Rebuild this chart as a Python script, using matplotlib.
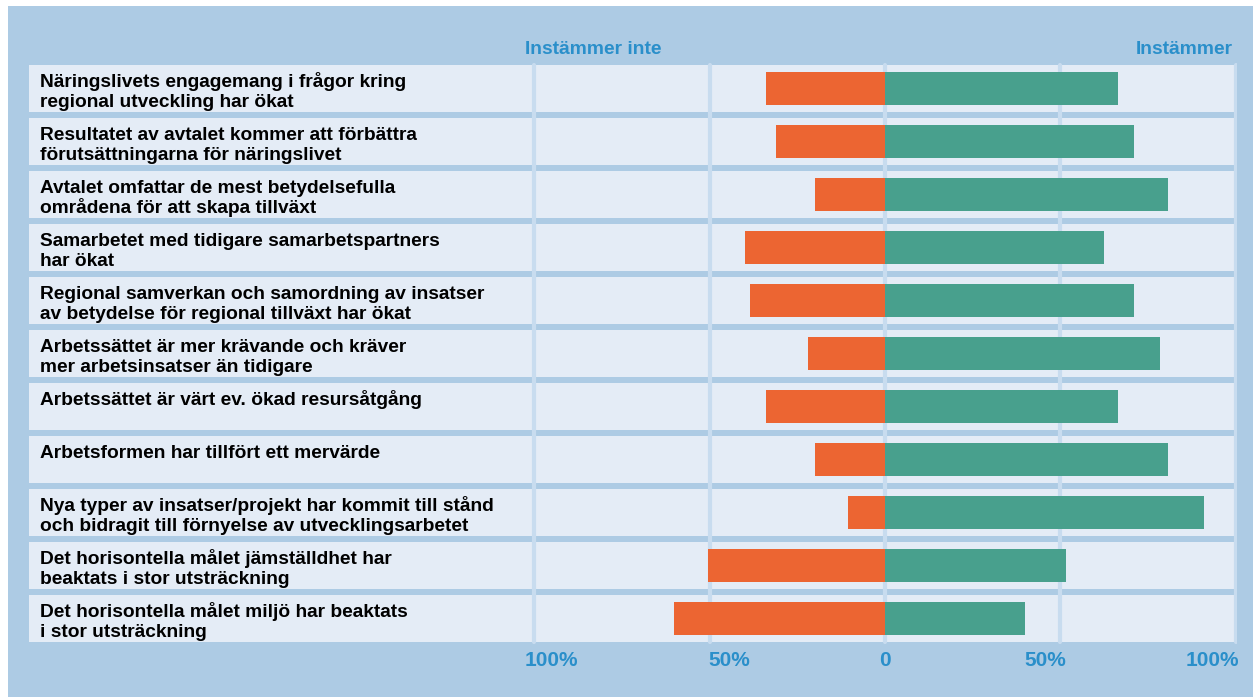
import matplotlib
matplotlib.use("Agg")
import matplotlib.pyplot as plt
from matplotlib.patches import Rectangle
from matplotlib.transforms import blended_transform_factory

# data (percent)
statements = [
    "Näringslivets engagemang i frågor kring\nregional utveckling har ökat",
    "Resultatet av avtalet kommer att förbättra\nförutsättningarna för näringslivet",
    "Avtalet omfattar de mest betydelsefulla\nområdena för att skapa tillväxt",
    "Samarbetet med tidigare samarbetspartners\nhar ökat",
    "Regional samverkan och samordning av insatser\nav betydelse för regional tillväxt har ökat",
    "Arbetssättet är mer krävande och kräver\nmer arbetsinsatser än tidigare",
    "Arbetssättet är värt ev. ökad resursåtgång",
    "Arbetsformen har tillfört ett mervärde",
    "Nya typer av insatser/projekt har kommit till stånd\noch bidragit till förnyelse av utvecklingsarbetet",
    "Det horisontella målet jämställdhet har\nbeaktats i stor utsträckning",
    "Det horisontella målet miljö har beaktats\ni stor utsträckning",
]
disagree = [34, 31, 20, 40, 38.5, 22, 34, 20, 10.5, 50.5, 60]
agree = [66.5, 71, 80.5, 62.5, 71, 78.5, 66.5, 80.5, 91, 51.5, 40]
tick_vals = [-100, -50, 0, 50, 100]
tick_labels = ["100%", "50%", "0", "50%", "100%"]

bg = "#adcbe4"
row_col = "#e4ecf6"
grid_col = "#c8dcef"
orange = "#ec6532"
green = "#48a08d"
blue_txt = "#2a8fca"

W, H = 1253, 697
fig = plt.figure(figsize=(W / 100, H / 100), dpi=100, facecolor="white")
fig.patches.append(Rectangle((8 / W, 0), 1, 1 - 6 / H, transform=fig.transFigure,
                             facecolor=bg, edgecolor="none", zorder=-10))

# axes from px 29..1237 horizontally, 62..645 vertically
ax = fig.add_axes([29 / W, 1 - 645 / H, (1237 - 29) / W, (645 - 62) / H])
ax.set_facecolor("none")
xmin, xmax = -243.9, 100.3
ax.set_xlim(xmin, xmax)
ax.set_ylim(10.5, -0.5)
for s in ax.spines.values():
    s.set_visible(False)
ax.set_xticks([])
ax.set_yticks([])

n = len(statements)
fill_h = 0.887
for i in range(n):
    ax.add_patch(Rectangle((xmin, i - fill_h / 2), 100 - xmin, fill_h,
                           facecolor=row_col, edgecolor="none", zorder=1))

ax.vlines(tick_vals, -0.5 + (1 - fill_h) / 2, n - 0.5 - (1 - fill_h) / 2,
          colors=grid_col, linewidth=3, zorder=2, capstyle="round")

ys = list(range(n))
ax.barh(ys, [-d for d in disagree], height=0.623, color=orange, zorder=3)
ax.barh(ys, agree, height=0.623, color=green, zorder=3)

font = "Liberation Sans"
for i, lab in enumerate(statements):
    for k, line in enumerate(lab.split("\n")):
        ax.text(-240.7, i - 0.03 + k * 0.377, line, ha="left", va="baseline",
                fontsize=13.8, fontweight="bold", color="black", family=font, zorder=4)

fig.text(525 / W, 1 - 50 / H, "Instämmer inte", ha="left", va="center",
         fontsize=13.9, fontweight="bold", color=blue_txt, family=font)
fig.text(1233 / W, 1 - 50 / H, "Instämmer", ha="right", va="center",
         fontsize=13.9, fontweight="bold", color=blue_txt, family=font)

tr = blended_transform_factory(ax.transData, fig.transFigure)
offs = [-2.6, -0.4, 0, 1.6, 0.9]
has = ["left", "left", "center", "right", "right"]
for v, lab, o, ha in zip(tick_vals, tick_labels, offs, has):
    ax.text(v + o, 1 - 661 / H, lab, transform=tr, ha=ha, va="center",
            fontsize=15, fontweight="bold", color=blue_txt, family=font)

fig.savefig("out.png", dpi=100, facecolor=fig.get_facecolor())
